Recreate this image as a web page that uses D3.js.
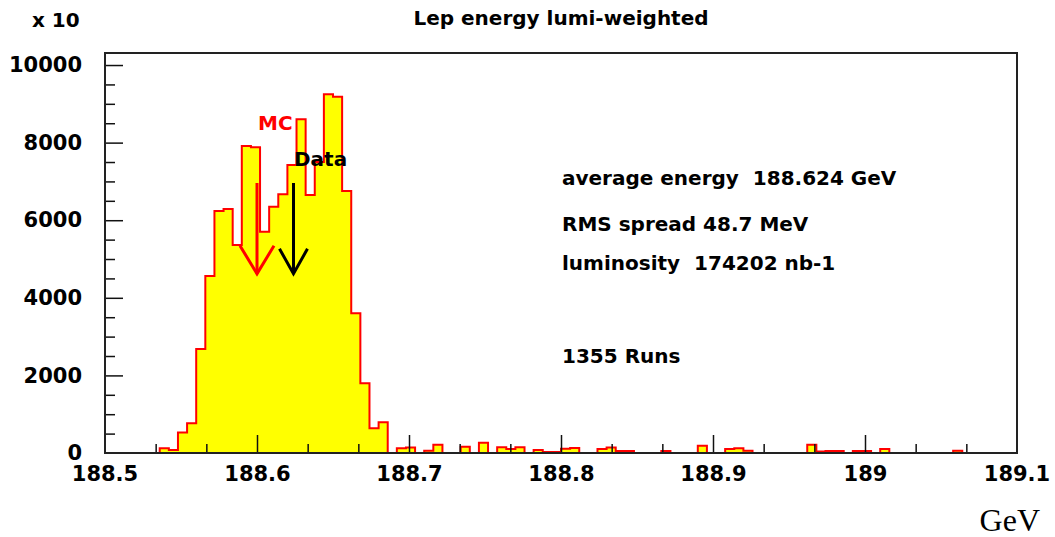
<!DOCTYPE html>
<html>
<head>
  <meta charset="UTF-8">
  <title>Lep energy lumi-weighted</title>
  <style>
  body { margin:0; background:#fff; }
  svg text { font-family:"DejaVu Sans",sans-serif; font-weight:bold; }
  </style>
</head>
<body>
  <div id="chart"></div>
  <script src="https://d3js.org/d3.v7.min.js"></script>
  <script>
    // histogram: 100 bins of 6 MeV from 188.5 to 189.1 GeV (counts in units of 10)
    var binStart = 188.5;
    var binWidth = 0.006;
    var counts = [
      0, 0, 0, 0, 0, 0, 120, 80, 530, 765,
      2680, 4560, 6240, 6290, 5360, 7910, 7880, 5700, 6350, 6670,
      7420, 8600, 6650, 7500, 9250, 9180, 6750, 3600, 1800, 640,
      790, 0, 120, 140, 0, 60, 210, 0, 0, 160,
      0, 265, 0, 150, 100, 150, 0, 80, 25, 25,
      110, 130, 0, 0, 100, 140, 50, 50, 0, 0,
      0, 50, 0, 0, 0, 185, 0, 0, 100, 120,
      60, 0, 0, 0, 0, 0, 0, 210, 40, 50,
      50, 0, 50, 50, 0, 100, 0, 0, 0, 0,
      0, 0, 0, 60, 0, 0, 0, 0, 0, 0
    ];

    var xTicks = [188.5, 188.6, 188.7, 188.8, 188.9, 189, 189.1];
    var xTickLabels = ["188.5", "188.6", "188.7", "188.8", "188.9", "189", "189.1"];
    var yTicks = [0, 2000, 4000, 6000, 8000, 10000];

    var arrowNames = ["MC", "Data"];
    var arrowX = [188.6, 188.624];
    var arrowTop = [6960, 6960];
    var arrowTip = [4620, 4620];

    var notes = ["average energy  188.624 GeV", "RMS spread 48.7 MeV", "luminosity  174202 nb-1", "1355 Runs"];

    var svg = d3.select("#chart")
      .append("svg")
      .attr("width", 1055)
      .attr("height", 537);

    var frame = { left: 105, right: 1017, top: 53, bottom: 453 };

    var x = d3.scaleLinear()
      .domain([188.5, 189.1])
      .range([frame.left, frame.right]);

    var y = d3.scaleLinear()
      .domain([0, 10310])
      .range([frame.bottom, frame.top]);

    // step outline of the histogram
    var pts = [];
    counts.forEach(function(c, i) {
      var lo = binStart + i * binWidth;
      pts.push([lo, c]);
      pts.push([lo + binWidth, c]);
    });
    pts.unshift([binStart, 0]);
    pts.push([binStart + counts.length * binWidth, 0]);

    var area = d3.area()
      .x(function(d) { return x(d[0]); })
      .y0(y(0))
      .y1(function(d) { return y(d[1]); });

    var line = d3.line()
      .x(function(d) { return x(d[0]); })
      .y(function(d) { return y(d[1]); });

    svg.append("path")
      .datum(pts)
      .attr("fill", "#ffff00")
      .attr("d", area);

    svg.append("path")
      .datum(pts)
      .attr("fill", "none")
      .attr("stroke", "#ff0000")
      .attr("stroke-width", 2)
      .attr("d", line);

    // minor ticks
    var xMinor = d3.range(1, 18).map(function(i) { return 188.5 + i * 0.1 / 3; })
      .filter(function(v, i) { return (i + 1) % 3 != 0; });
    var yMinor = d3.range(500, 10310, 500).filter(function(v) { return v % 2000 != 0; });

    var gxMinor = svg.append("g")
      .attr("transform", "translate(0," + frame.bottom + ")")
      .call(d3.axisBottom(x).tickValues(xMinor).tickSize(-9).tickFormat(""));
    var gyMinor = svg.append("g")
      .attr("transform", "translate(" + frame.left + ",0)")
      .call(d3.axisLeft(y).tickValues(yMinor).tickSize(-10).tickFormat(""));

    var gx = svg.append("g")
      .attr("transform", "translate(0," + frame.bottom + ")")
      .call(d3.axisBottom(x)
        .tickValues(xTicks.slice(1, -1))
        .tickSize(-18)
        .tickPadding(13)
        .tickFormat(function(d) { return xTickLabels[xTicks.indexOf(d)]; }));

    var gy = svg.append("g")
      .attr("transform", "translate(" + frame.left + ",0)")
      .call(d3.axisLeft(y)
        .tickValues(yTicks.slice(1))
        .tickSize(-18)
        .tickPadding(23)
        .tickFormat(function(d) { return d; }));

    [gx, gy, gxMinor, gyMinor].forEach(function(g) {
      g.select(".domain").remove();
      g.selectAll(".tick line").attr("stroke", "#111").attr("stroke-width", 1.5);
      g.attr("font-family", null).attr("font-size", null);
      g.selectAll("text").attr("font-size", 21).attr("fill", "#000");
    });

    // end labels that sit on the frame corners
    svg.append("text")
      .attr("x", x(xTicks[0]))
      .attr("y", frame.bottom + 13)
      .attr("dy", "0.71em")
      .attr("text-anchor", "middle")
      .attr("font-size", 21)
      .text(xTickLabels[0]);
    svg.append("text")
      .attr("x", x(xTicks[xTicks.length - 1]))
      .attr("y", frame.bottom + 13)
      .attr("dy", "0.71em")
      .attr("text-anchor", "middle")
      .attr("font-size", 21)
      .text(xTickLabels[xTicks.length - 1]);
    svg.append("text")
      .attr("x", frame.left - 23)
      .attr("y", y(yTicks[0]))
      .attr("dy", "0.32em")
      .attr("text-anchor", "end")
      .attr("font-size", 21)
      .text(yTicks[0]);

    // frame
    svg.append("rect")
      .attr("x", frame.left)
      .attr("y", frame.top)
      .attr("width", frame.right - frame.left)
      .attr("height", frame.bottom - frame.top)
      .attr("fill", "none")
      .attr("stroke", "#222")
      .attr("stroke-width", 2);

    // arrows
    var arrowColor = ["#ff0000", "#000000"];
    var wing = [17, 14];
    var wingDrop = [28, 25];
    arrowNames.forEach(function(name, i) {
      var ax = x(arrowX[i]), ty = y(arrowTop[i]), tip = y(arrowTip[i]);
      svg.append("line")
        .attr("x1", ax).attr("x2", ax)
        .attr("y1", ty).attr("y2", tip)
        .attr("stroke", arrowColor[i])
        .attr("stroke-width", 3);
      svg.append("path")
        .attr("d", "M" + (ax - wing[i]) + "," + (tip - wingDrop[i]) + "L" + ax + "," + tip + "L" + (ax + wing[i]) + "," + (tip - wingDrop[i]))
        .attr("fill", "none")
        .attr("stroke", arrowColor[i])
        .attr("stroke-width", 3);
    });

    svg.append("text")
      .attr("x", 258)
      .attr("y", 130)
      .attr("font-size", 20)
      .attr("fill", "#ff0000")
      .text(arrowNames[0]);
    svg.append("text")
      .attr("x", 294)
      .attr("y", 166)
      .attr("font-size", 20)
      .attr("fill", "#000")
      .text(arrowNames[1]);

    // statistics text
    var noteY = [185, 231, 270, 363];
    notes.forEach(function(t, i) {
      svg.append("text")
        .attr("x", 562)
        .attr("y", noteY[i])
        .attr("font-size", 20)
        .style("white-space", "pre")
        .text(t);
    });

    // title and scale factor
    svg.append("text")
      .attr("x", 561)
      .attr("y", 25)
      .attr("text-anchor", "middle")
      .attr("font-size", 20)
      .text("Lep energy lumi-weighted");

    svg.append("text")
      .attr("x", 32)
      .attr("y", 27)
      .attr("font-size", 20)
      .text("x 10");

    svg.append("text")
      .attr("x", 1040)
      .attr("y", 531)
      .attr("text-anchor", "end")
      .style("font-family", "'Liberation Serif', serif")
      .style("font-weight", "normal")
      .attr("font-size", 32)
      .text("GeV");
  </script>
</body>
</html>
